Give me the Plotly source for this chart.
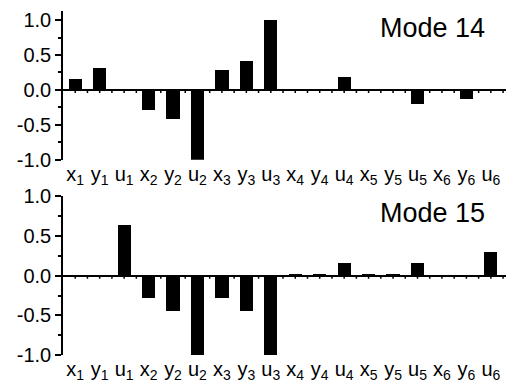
import plotly.graph_objects as go

# Degrees of freedom per node and the normalised mode-shape components
categories = [
    "x<sub>1</sub>", "y<sub>1</sub>", "u<sub>1</sub>",
    "x<sub>2</sub>", "y<sub>2</sub>", "u<sub>2</sub>",
    "x<sub>3</sub>", "y<sub>3</sub>", "u<sub>3</sub>",
    "x<sub>4</sub>", "y<sub>4</sub>", "u<sub>4</sub>",
    "x<sub>5</sub>", "y<sub>5</sub>", "u<sub>5</sub>",
    "x<sub>6</sub>", "y<sub>6</sub>", "u<sub>6</sub>",
]
mode14 = [0.15, 0.31, 0.0, -0.29, -0.42, -1.0, 0.28, 0.41, 1.0,
          0.005, 0.005, 0.19, 0.0, 0.005, -0.20, 0.01, -0.13, 0.0]
mode15 = [0.0, 0.0, 0.63, -0.29, -0.45, -1.0, -0.29, -0.45, -1.0,
          0.01, 0.01, 0.15, 0.01, 0.01, 0.15, 0.0, 0.0, 0.30]
panel_titles = ["Mode 14", "Mode 15"]

ytick_vals = [-1.0, -0.5, 0.0, 0.5, 1.0]
ytick_text = ["-1.0", "-0.5", "0.0", "0.5", "1.0"]

W, H = 506, 383
FONT = "Liberation Sans, Arial, Helvetica, sans-serif"
LW = 1.5

x_idx = list(range(len(categories)))
x_range = [-0.5, len(categories) - 0.38]
half_ticks = [i / 2 for i in range(0, 2 * len(categories))]

top_range = [-1.0, 1.13]
bot_range = [-1.0, 1.0]
top_dom = [0.5677, 1.0]
bot_dom = [0.0, 0.4611]

fig = go.Figure()
fig.add_trace(go.Bar(x=x_idx, y=mode14, width=0.54, marker=dict(color="black", line=dict(width=0)),
                     xaxis="x", yaxis="y", showlegend=False))
fig.add_trace(go.Bar(x=x_idx, y=mode15, width=0.54, marker=dict(color="black", line=dict(width=0)),
                     xaxis="x2", yaxis="y2", showlegend=False))

x_axis = dict(
    range=x_range, tickmode="array", tickvals=x_idx, ticktext=categories,
    showline=False, ticks="", showgrid=False, zeroline=False, tickangle=0,
    tickfont=dict(family=FONT, size=20, color="black"),
)
y_axis = dict(
    tickmode="array", tickvals=ytick_vals, ticktext=ytick_text,
    showline=True, linecolor="black", linewidth=LW, ticks="outside", ticklen=6,
    tickwidth=LW, tickcolor="black", showgrid=False,
    zeroline=True, zerolinecolor="black", zerolinewidth=LW,
    tickfont=dict(family=FONT, size=20, color="black"),
    minor=dict(dtick=0.25, tick0=0, ticks="outside", ticklen=3, tickwidth=LW, tickcolor="black", showgrid=False),
)

# small downward ticks along the zero line, at every category and half-way between
shapes = []
for xr, yr in (("x", "y"), ("x2", "y2")):
    for t in half_ticks:
        shapes.append(dict(type="line", xref=xr, yref=yr, x0=t, x1=t,
                           ysizemode="pixel", yanchor=0, y0=0, y1=-3,
                           line=dict(color="black", width=LW)))

fig.update_layout(
    width=W, height=H,
    margin=dict(l=63, r=0, t=10, b=26),
    paper_bgcolor="white", plot_bgcolor="white",
    bargap=0,
    xaxis=dict(**x_axis, anchor="y"),
    xaxis2=dict(**x_axis, anchor="y2"),
    yaxis=dict(**y_axis, domain=top_dom, range=top_range, anchor="x"),
    yaxis2=dict(**y_axis, domain=bot_dom, range=bot_range, anchor="x2"),
    shapes=shapes,
    annotations=[
        dict(text=panel_titles[0], xref="paper", yref="paper", x=0.957, y=0.951,
             xanchor="right", yanchor="middle", showarrow=False,
             font=dict(family=FONT, size=27, color="black")),
        dict(text=panel_titles[1], xref="paper", yref="paper", x=0.957, y=0.412,
             xanchor="right", yanchor="middle", showarrow=False,
             font=dict(family=FONT, size=27, color="black")),
    ],
)

fig.write_html("out.html")
